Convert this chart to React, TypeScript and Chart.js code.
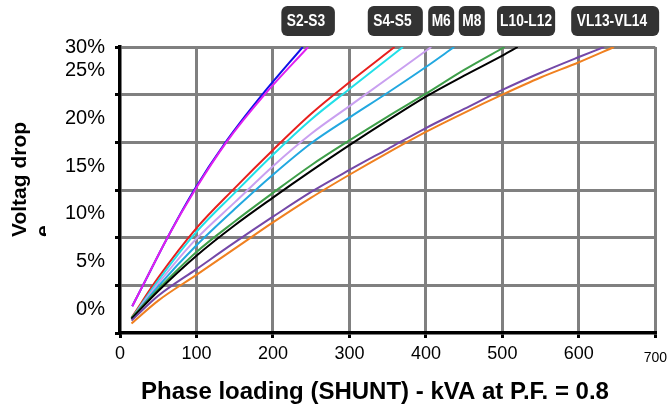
import React, { useEffect, useRef } from 'react';
import { Chart, registerables } from 'chart.js';

Chart.register(...registerables);

// ---- data (kVA at P.F. 0.8 vs voltage drop, in axis units 0..30) ----
const BLUE_KVA = [16, 30, 62, 97, 138, 186, 239];
const BLUE_VD = [2.8, 5, 10, 15, 20, 25, 30];
const MAGENTA_KVA = [16, 30, 62, 98, 139, 189, 246];
const MAGENTA_VD = [2.8, 5, 10, 15, 20, 25, 30];
const RED_KVA = [15, 50, 100, 150, 200, 250, 300, 359];
const RED_VD = [1.6, 5.8, 11.0, 15.2, 19.2, 23.0, 26.3, 30];
const CYAN_KVA = [15, 50, 100, 150, 200, 250, 300, 370];
const CYAN_VD = [1.5, 5.5, 10.6, 14.7, 18.7, 22.4, 25.6, 30];
const LAVENDER_KVA = [15, 50, 100, 150, 200, 250, 300, 350, 407];
const LAVENDER_VD = [1.5, 5.2, 9.9, 13.7, 17.5, 20.9, 23.8, 26.7, 30];
const SKY_KVA = [15, 50, 100, 150, 200, 250, 300, 350, 400, 437];
const SKY_VD = [1.5, 4.9, 9.2, 13.0, 16.6, 19.9, 22.6, 25.2, 27.9, 30];
const GREEN_KVA = [15, 50, 100, 150, 200, 250, 300, 350, 400, 450, 503];
const GREEN_VD = [1.6, 4.6, 8.5, 11.7, 14.7, 17.6, 20.2, 22.7, 25.1, 27.6, 30];
const BLACK_KVA = [15, 50, 100, 150, 200, 250, 300, 350, 400, 450, 500, 520];
const BLACK_VD = [1.5, 4.4, 8.1, 11.3, 14.2, 17.0, 19.7, 22.3, 24.8, 27.0, 29.1, 30];
const PURPLE_KVA = [15, 50, 100, 150, 200, 250, 300, 350, 400, 450, 500, 550, 600, 633];
const PURPLE_VD = [1.3, 3.9, 6.7, 9.5, 12.2, 14.8, 17.1, 19.3, 21.5, 23.5, 25.5, 27.3, 28.95, 30];
const ORANGE_KVA = [15, 50, 100, 150, 200, 250, 300, 350, 400, 450, 500, 550, 600, 646];
const ORANGE_VD = [1.0, 3.4, 6.1, 8.85, 11.6, 14.2, 16.6, 18.9, 21.1, 23.1, 25.0, 26.8, 28.4, 30];

// ---- tick labels ----
const Y_TICK_LABELS = ['0%', '5%', '10%', '15%', '20%', '25%'];
const Y_TOP_LABEL = '30%';
const X_SMALL_TICK = 700;

// ---- badges above the plot (range in kVA) ----
const BADGE_LABELS = ['S2-S3', 'S4-S5', 'M6', 'M8', 'L10-L12', 'VL13-VL14'];
const BADGE_FROM = [211, 324, 403, 443, 493, 590];
const BADGE_TO = [281, 396, 437, 477, 569, 705];

const X_TITLE = 'Phase loading (SHUNT) - kVA at P.F. = 0.8';
const Y_TITLE_LINES = ['Voltag drop', 'e'];

const FONT = '"Liberation Sans", Arial, Helvetica, sans-serif';
const GRID = '#808080';

const pts = (xs: number[], ys: number[]) => xs.map((x, i) => ({ x, y: ys[i] }));

const badgePlugin = {
  id: 'badges',
  afterDraw(chart: any) {
    const ctx = chart.ctx as CanvasRenderingContext2D;
    const xs = chart.scales.x;
    ctx.save();
    BADGE_LABELS.forEach((lab, i) => {
      const x0 = xs.getPixelForValue(BADGE_FROM[i]);
      const x1 = xs.getPixelForValue(BADGE_TO[i]);
      const w = x1 - x0;
      const y0 = 6, h = 30;
      ctx.save();
      ctx.beginPath();
      (ctx as any).roundRect(x0, y0, w, h, 6);
      ctx.fillStyle = '#333333';
      ctx.fill();
      ctx.clip();
      ctx.font = `bold 17px ${FONT}`;
      const sx = 0.81;
      const tw = ctx.measureText(lab).width * sx;
      const pad = Math.max(1, Math.min(5.5, (w - tw) / 2));
      ctx.translate(x0 + pad, y0 + h / 2 + 0.5);
      ctx.scale(sx, 1);
      ctx.fillStyle = '#ffffff';
      ctx.textAlign = 'left';
      ctx.textBaseline = 'middle';
      ctx.fillText(lab, 0, 0);
      ctx.restore();
    });
    ctx.restore();
  },
};

const titlePlugin = {
  id: 'axisTitles',
  afterDraw(chart: any) {
    const ctx = chart.ctx as CanvasRenderingContext2D;
    ctx.save();
    ctx.fillStyle = '#000';
    // x title
    ctx.font = `bold 24px ${FONT}`;
    ctx.textAlign = 'center';
    ctx.textBaseline = 'middle';
    ctx.fillText(X_TITLE, 375, 392);
    // y title (rotated, second line clipped)
    ctx.font = `bold 21px ${FONT}`;
    ctx.textAlign = 'left';
    ctx.textBaseline = 'alphabetic';
    ctx.save();
    ctx.translate(26, 237);
    ctx.rotate(-Math.PI / 2);
    ctx.fillText(Y_TITLE_LINES[0], 0, 0);
    ctx.restore();
    ctx.save();
    ctx.beginPath();
    ctx.rect(0, 100, 46, 200);
    ctx.clip();
    ctx.translate(50, 237);
    ctx.rotate(-Math.PI / 2);
    ctx.fillText(Y_TITLE_LINES[1], 0, 0);
    ctx.restore();
    ctx.restore();
  },
};

const whiteBg = {
  id: 'whiteBg',
  beforeDraw(chart: any) {
    const ctx = chart.ctx;
    ctx.save();
    ctx.fillStyle = '#fff';
    ctx.fillRect(0, 0, chart.width, chart.height);
    ctx.restore();
  },
};

const isGridVal = (v: any) => typeof v === 'number' && Math.abs(v % 5) < 1e-6;

export default function App() {
  const ref = useRef<HTMLCanvasElement>(null);
  useEffect(() => {
    document.body.style.margin = '0';
    const mk = (xs: number[], ys: number[], color: string) => ({
      data: pts(xs, ys),
      borderColor: color,
      backgroundColor: color,
      borderWidth: 2,
      pointRadius: 0,
      fill: false,
      cubicInterpolationMode: 'monotone' as const,
    });
    const chart = new Chart(ref.current!, {
      type: 'line',
      data: {
        datasets: [
          mk(ORANGE_KVA, ORANGE_VD, '#f08020'),
          mk(PURPLE_KVA, PURPLE_VD, '#7448a8'),
          mk(BLACK_KVA, BLACK_VD, '#000000'),
          mk(GREEN_KVA, GREEN_VD, '#3f9f4a'),
          mk(SKY_KVA, SKY_VD, '#22a8e0'),
          mk(LAVENDER_KVA, LAVENDER_VD, '#c9a0f0'),
          mk(CYAN_KVA, CYAN_VD, '#22e0e8'),
          mk(RED_KVA, RED_VD, '#e8201e'),
          mk(MAGENTA_KVA, MAGENTA_VD, '#e020f0'),
          mk(BLUE_KVA, BLUE_VD, '#1010e8'),
        ] as any,
      },
      options: {
        responsive: false,
        animation: false,
        devicePixelRatio: 1,
        layout: { padding: { top: 47, right: 16, left: 0, bottom: 0 } },
        plugins: { legend: { display: false }, tooltip: { enabled: false } },
        font: { family: FONT } as any,
        scales: {
          x: {
            type: 'linear',
            min: 0,
            max: 700,
            afterFit: (s: any) => { s.height = 77; },
            border: { display: true, color: '#000', width: 3.5 },
            grid: {
              color: (c: any) => (c.tick && c.tick.value === 0 ? 'rgba(0,0,0,0)' : GRID),
              lineWidth: 3,
              tickColor: '#000',
              tickLength: 5,
              tickWidth: 3,
            } as any,
            ticks: {
              stepSize: 100,
              autoSkip: false,
              maxRotation: 0,
              color: '#000',
              padding: 5,
              font: (c: any) =>
                c.tick && c.tick.value === X_SMALL_TICK
                  ? { family: FONT, size: 14, lineHeight: 2.2 }
                  : { family: FONT, size: 18 },
            },
          },
          y: {
            type: 'linear',
            min: 0,
            max: 30,
            afterFit: (s: any) => { s.width = 120; },
            afterBuildTicks: (s: any) => {
              const t: any[] = [];
              for (let i = 0; i <= 12; i++) t.push({ value: i * 2.5 });
              s.ticks = t;
            },
            border: { display: true, color: '#000', width: 3.5 },
            grid: {
              color: (c: any) =>
                c.tick && isGridVal(c.tick.value) && c.tick.value !== 0 ? GRID : 'rgba(0,0,0,0)',
              lineWidth: 3,
              tickColor: (c: any) => (c.tick && isGridVal(c.tick.value) ? '#000' : 'rgba(0,0,0,0)'),
              tickLength: 5,
              tickWidth: 3,
            } as any,
            ticks: {
              autoSkip: false,
              color: '#000',
              padding: 10,
              font: { family: FONT, size: 20 },
              callback: (v: any) => {
                const n = Number(v);
                if (Math.abs(n - 30) < 1e-6) return Y_TOP_LABEL;
                const k = (n - 2.5) / 5;
                if (Math.abs(k - Math.round(k)) < 1e-6) return Y_TICK_LABELS[Math.round(k)] ?? '';
                return '';
              },
            },
          },
        },
      } as any,
      plugins: [whiteBg, badgePlugin, titlePlugin],
    });
    return () => chart.destroy();
  }, []);
  return (
    <div style={{ width: 672, height: 410, background: '#fff' }}>
      <canvas ref={ref} width={672} height={410} style={{ display: 'block', width: 672, height: 410 }} />
    </div>
  );
}
